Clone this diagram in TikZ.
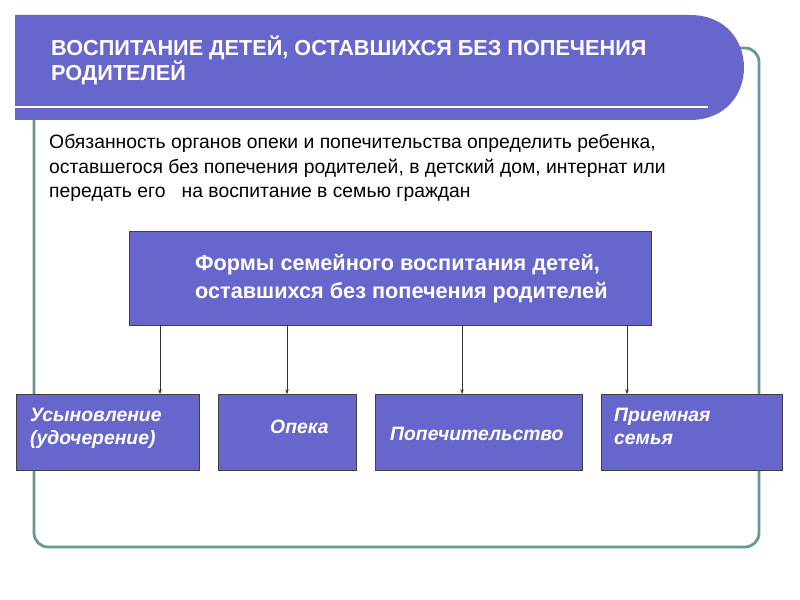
\documentclass[tikz,border=0pt]{standalone}
\usepackage{fontspec}
\setmainfont{Liberation Sans}
\usetikzlibrary{calc,positioning,arrows.meta}
\definecolor{boxblue}{RGB}{102,102,204}
\definecolor{frameteal}{RGB}{102,153,145}
\tikzset{
  formbox/.style={draw=black!75,fill=boxblue,line width=0.6pt},
  formtext/.style={text=white,font=\fontsize{16.5}{20}\selectfont\bfseries\itshape,align=left,anchor=north west},
  link/.style={-{Stealth[length=4pt,width=3pt]},line width=0.4pt,black!80}
}
\begin{document}
\begin{tikzpicture}[x=0.03cm,y=-0.03cm]
\useasboundingbox (0,0) rectangle (800,600);
% frame and banner
\draw[frameteal,line width=2.4pt,rounded corners=12pt](34,48) rectangle (759,547);
\fill[boxblue](15,15)--(690,15) .. controls (762,15) and (762,120) .. (690,120)--(15,120)--cycle;
\draw[white,line width=2.2pt](15,107)--(708,107);
\node[text=white,font=\fontsize{18.5}{21}\selectfont\bfseries,align=left,anchor=north west,inner sep=0pt] (title) at (51,36)
  {ВОСПИТАНИЕ ДЕТЕЙ, ОСТАВШИХСЯ БЕЗ ПОПЕЧЕНИЯ\\РОДИТЕЛЕЙ};
\node[font=\fontsize{16.5}{21}\selectfont,align=left,anchor=north west,inner sep=0pt] (duty) at (49,134)
  {Обязанность органов опеки и попечительства определить ребенка,\\оставшегося без попечения родителей, в детский дом, интернат или\\передать его \ \ на воспитание в семью граждан};
% main box
\draw[formbox](129,231) rectangle (651,325);
\coordinate (main) at (390,278);
\node[text=white,font=\fontsize{18.5}{24}\selectfont\bfseries,align=left,anchor=north west,inner sep=0pt] (forms) at (195,254)
  {Формы семейного воспитания детей,\\оставшихся без попечения родителей};
% boxes
\draw[formbox](16,394) rectangle (199,470);
\draw[formbox](218,394) rectangle (356,470);
\draw[formbox](375,394) rectangle (582,470);
\draw[formbox](601,394) rectangle (782,470);
\node[formtext,inner sep=0pt] (adopt) at (30,408) {Усыновление\\(удочерение)};
\node[formtext,inner sep=0pt] (guard) at (270,420) {Опека};
\node[formtext,inner sep=0pt] (trust) at (390,427) {Попечительство};
\node[formtext,inner sep=0pt] (foster) at (614,408) {Приемная\\семья};
% arrows
\foreach \xx/\nm in {160/a1,287/a2,462/a3,627/a4}{
  \coordinate (\nm) at (\xx,394);
  \draw[link] (\xx,325) -- (\nm);
}
\end{tikzpicture}
\end{document}
